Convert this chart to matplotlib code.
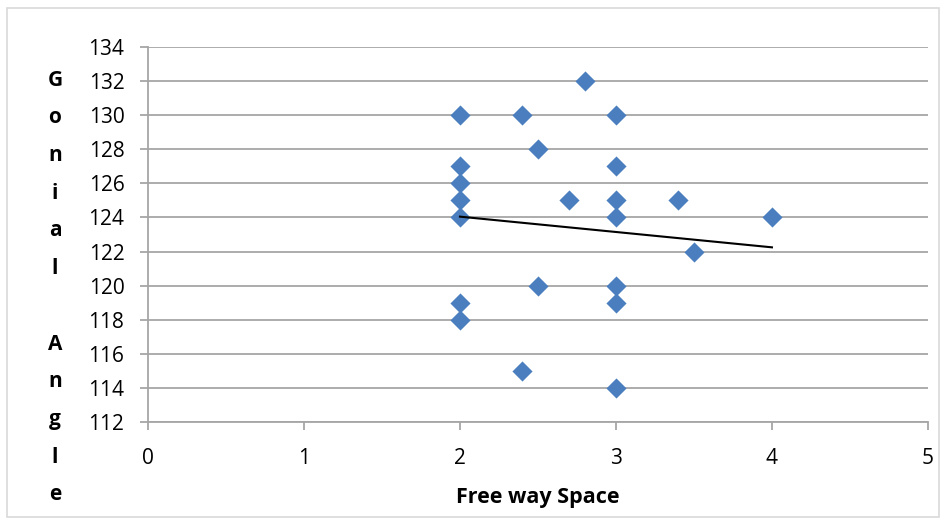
import matplotlib.pyplot as plt
import numpy as np
from matplotlib.patches import Rectangle

plt.rcParams['font.family'] = ['Open Sans', 'DejaVu Sans']

# data
free_way = [2, 2.4, 3, 2.8, 2.5, 2, 3, 2, 2, 2.7, 3, 3.4, 2, 3, 4,
            3.5, 2.5, 3, 2, 3, 2, 2.4, 3]
gonial = [130, 130, 130, 132, 128, 127, 127, 126, 125, 125, 125, 125, 124, 124, 124,
          122, 120, 120, 119, 119, 118, 115, 114]
trend_x = [2, 4]
trend_y = [124.05, 122.25]

fig = plt.figure(figsize=(9.46, 5.25), dpi=100)
ax = fig.add_axes([0.1564, 0.196, 0.8245, 0.7145])

ax.scatter(free_way, gonial, marker='D', s=105, color='#4A7EBF', zorder=3, linewidths=0)
ax.plot(trend_x, trend_y, color='black', lw=1.5, zorder=4)

ax.set_xlim(0, 5)
ax.set_ylim(112, 134)
ax.set_xticks(np.arange(0, 6, 1))
ax.set_yticks(np.arange(112, 135, 2))
ax.grid(axis='y', color='#A6A6A6', lw=1.3)
ax.set_axisbelow(True)
for s in ['top', 'right']:
    ax.spines[s].set_visible(False)
for s in ['left', 'bottom']:
    ax.spines[s].set_color('#A6A6A6')
    ax.spines[s].set_linewidth(1.3)
ax.tick_params(axis='both', colors='#A6A6A6', length=6, width=1.3, labelsize=15,
               labelcolor='black')
ax.tick_params(axis='y', pad=11)
ax.tick_params(axis='x', pad=13)

fig.text(538 / 946, 1 - 497 / 525, 'Free way Space', ha='center', va='center',
         fontsize=15.5, fontweight='bold')

label = 'Gonial Angle'
ys = np.linspace(80, 495, len(label))
for ch, yp in zip(label, ys):
    if ch != ' ':
        fig.text(55 / 946, 1 - yp / 525, ch, ha='center', va='center',
                 fontsize=15, fontweight='bold')

fig.patches.append(Rectangle((7 / 946, 8 / 525), 932 / 946, 509 / 525,
                             transform=fig.transFigure, fill=False,
                             edgecolor='#D9D9D9', lw=1.2))

fig.savefig('out.png', dpi=100)
